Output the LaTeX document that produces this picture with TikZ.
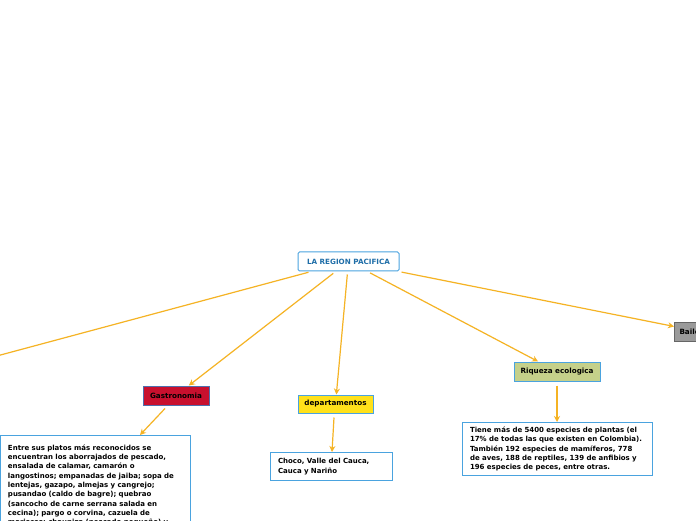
\documentclass[tikz,border=0pt]{standalone}
\usepackage{fontspec}
\setmainfont{DejaVu Sans}
\usetikzlibrary{arrows.meta,calc}
\definecolor{lineor}{HTML}{F5B324}
\definecolor{boxblue}{HTML}{4AA3DF}
\definecolor{rootblue}{HTML}{1F6EA8}
\definecolor{gasred}{HTML}{C8102E}
\definecolor{gasbord}{HTML}{4F6FAD}
\definecolor{depyel}{HTML}{FFE11A}
\definecolor{riqgreen}{HTML}{C5D08A}
\definecolor{bailgray}{HTML}{9A9A9A}
\tikzset{
  x=1pt,y=1pt,
  conn/.style={draw=lineor,line width=1.2pt,-{Stealth[length=6pt,width=6pt]},shorten <=3pt},
  topic/.style={draw,line width=1pt,inner sep=0pt,font=\bfseries\fontsize{7.2}{8.5}\selectfont,text=black},
  txtbox/.style={draw=boxblue,line width=1pt,fill=white,anchor=north west,align=left,inner xsep=7.5pt,inner ysep=4.5pt,
    font=\bfseries\fontsize{7.0}{9.3}\selectfont,text=black},
}
\begin{document}
\begin{tikzpicture}
\clip (0,0) rectangle (696,520);
\fill[white] (0,0) rectangle (696,520);
\node[topic,draw=boxblue,fill=white,text=rootblue,rounded corners=1.5pt,minimum width=101pt,minimum height=19pt] (root) at (348.5,258.5) {LA REGION PACIFICA};
\node[topic,draw=gasbord,fill=gasred,minimum width=66pt,minimum height=19pt] (gas) at (176,124.5) {Gastronomia};
\node[topic,draw=boxblue,fill=depyel,minimum width=75pt,minimum height=18pt] (dep) at (335.5,116) {departamentos};
\node[topic,draw=black!60,fill=riqgreen,minimum width=86pt,minimum height=19pt,draw=boxblue] (riq) at (557,148.5) {Riqueza ecologica};
\node[topic,draw=black!60,fill=bailgray,minimum width=50pt,minimum height=19pt,anchor=west,text width=40pt,align=left] (bai) at (674,188.5) {Baile};
\coordinate (left) at (-100,138);

\node[txtbox,minimum width=190pt,minimum height=100pt,text width=175pt] (gastxt) at (0,85) {Entre sus platos más reconocidos se\\
encuentran los aborrajados de pescado,\\
ensalada de calamar, camarón o\\
langostinos; empanadas de jaiba; sopa de\\
lentejas, gazapo, almejas y cangrejo;\\
pusandao (caldo de bagre); quebrao\\
(sancocho de carne serrana salada en\\
cecina); pargo o corvina, cazuela de\\
mariscos; chaupiza (pescado pequeño) y};
\node[txtbox,minimum width=122pt,minimum height=28pt,text width=107pt] (deptxt) at (270,68) {Choco, Valle del Cauca,\\Cauca y Nariño};
\node[txtbox,minimum width=190pt,minimum height=53pt,text width=175pt] (riqtxt) at (462,98) {Tiene más de 5400 especies de plantas (el\\
17\% de todas las que existen en Colombia).\\
También 192 especies de mamíferos, 778\\
de aves, 188 de reptiles, 139 de anfibios y\\
196 especies de peces, entre otras.};

\draw[conn] (root) -- (left);
\draw[conn] (root) -- (gas);
\draw[conn] (root) -- (dep);
\draw[conn] (root) -- (riq);
\draw[conn] (root) -- (bai);
\draw[conn,shorten <=0pt] ($(gas.south)+(-11,-3)$) -- ($(gastxt.north west)+(140,0)$);
\draw[conn,shorten <=0pt] ($(dep.south)+(-1.5,-4)$) -- ($(deptxt.north west)+(62,0)$);
\draw[conn,shorten <=0pt] ($(riq.south)+(0,-4)$) -- ($(riqtxt.north west)+(95,0)$);
\end{tikzpicture}
\end{document}
